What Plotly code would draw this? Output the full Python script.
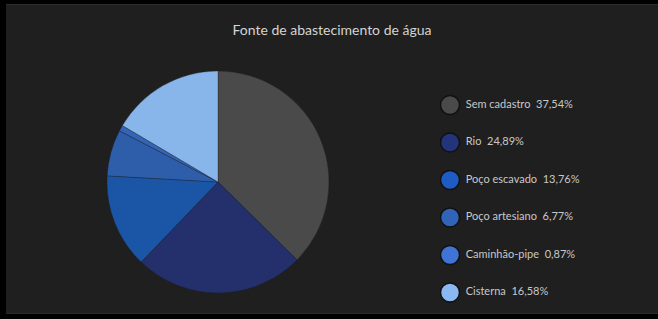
import plotly.graph_objects as go

title = "Fonte de abastecimento de água"
categories = ["Sem cadastro", "Rio", "Poço escavado", "Poço artesiano", "Caminhão-pipe", "Cisterna"]
values = [37.54, 24.89, 13.76, 6.77, 0.87, 16.58]
slice_colors = ["#4a4a4a", "#23306c", "#1b55a6", "#2e5eaa", "#3464b6", "#88b5ea"]
legend_colors = ["#4a4a4a", "#24347a", "#1e5bc4", "#3163b8", "#3f74d6", "#8ab8f0"]

W, H = 658, 319

def fmt(v):
    return f"{v:.2f}".replace(".", ",") + "%"

labels_text = [f"\u00a0{c}\u00a0\u00a0{fmt(v)}" for c, v in zip(categories, values)]

fig = go.Figure()

# pie
cx, cy, r = 218, 182, 111
fig.add_trace(go.Pie(
    labels=categories,
    values=values,
    sort=False,
    direction="clockwise",
    rotation=0,
    textinfo="none",
    hoverinfo="label+percent",
    marker=dict(colors=slice_colors, line=dict(color="#1c1c1c", width=0.3)),
    domain=dict(x=[(cx - r) / W, (cx + r) / W], y=[1 - (cy + r) / H, 1 - (cy - r) / H]),
    showlegend=False,
))

# custom legend with circle markers
fig.add_trace(go.Scatter(
    x=[0] * len(categories),
    y=categories,
    mode="markers+text",
    marker=dict(size=19, color=legend_colors, line=dict(color="#111111", width=1.5)),
    text=labels_text,
    textposition="middle right",
    textfont=dict(family="Lato, Open Sans, sans-serif", size=11, color="#c8c8c8"),
    cliponaxis=False,
    hoverinfo="skip",
    showlegend=False,
))

top = 105 - 18.75
bottom = top + 37.5 * 6
fig.update_layout(
    width=W, height=H,
    margin=dict(l=0, r=0, t=0, b=0),
    paper_bgcolor="#000000",
    plot_bgcolor="rgba(0,0,0,0)",
    title=dict(text=title, x=332 / W, xanchor="center", y=1 - 30 / H, yanchor="middle",
               font=dict(family="Lato, Open Sans, sans-serif", size=14, color="#d4d4d4")),
    xaxis=dict(domain=[450 / W, 650 / W], range=[0, 1], visible=False, fixedrange=True),
    yaxis=dict(domain=[1 - bottom / H, 1 - top / H], range=[len(categories) - 0.5, -0.5],
               autorange=False, visible=False, type="category", fixedrange=True),
    shapes=[
        dict(type="rect", xref="paper", yref="paper", x0=6 / W, x1=1, y0=1 - 314 / H, y1=1 - 4 / H,
             fillcolor="#1f1f1f", line=dict(width=0), layer="below"),
        dict(type="line", xref="paper", yref="paper", x0=6 / W, x1=1, y0=1 - 4.5 / H, y1=1 - 4.5 / H,
             line=dict(color="#2c2c2c", width=1), layer="below"),
        dict(type="line", xref="paper", yref="paper", x0=6 / W, x1=1, y0=1 - 313.5 / H, y1=1 - 313.5 / H,
             line=dict(color="#2a2a2a", width=1), layer="below"),
    ],
    hovermode="closest",
)

fig.write_html(
    "out.html",
    config={"displayModeBar": False},
    post_script="document.body.style.margin='0';document.body.style.padding='0';"
                "document.body.style.background='#000';document.body.style.overflow='hidden';",
)
